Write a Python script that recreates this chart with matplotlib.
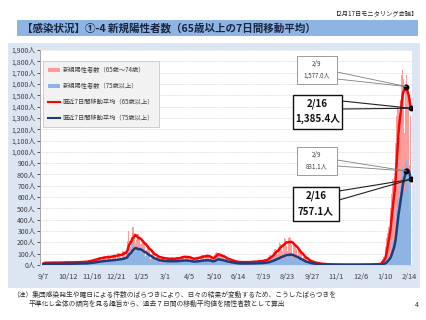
import matplotlib
matplotlib.use("Agg")
import matplotlib.pyplot as plt
import pandas as pd
from matplotlib.patches import Rectangle, Patch
from matplotlib.lines import Line2D

plt.rcParams["font.family"] = ["Noto Sans CJK JP", "DejaVu Sans"]

# ── data: daily new positives, one row per week (Mon..Sun), from 2020-09-07 ──
START = "2020-09-07"
age_65_74 = [
    6, 9, 12, 12, 11, 11, 8,
    6, 10, 13, 13, 13, 12, 9,
    6, 9, 12, 12, 12, 11, 8,
    7, 10, 13, 13, 13, 12, 9,
    7, 11, 14, 14, 14, 13, 10,
    7, 11, 14, 15, 14, 13, 10,
    7, 12, 14, 14, 14, 13, 10,
    8, 12, 15, 16, 15, 14, 11,
    8, 13, 16, 17, 16, 16, 12,
    11, 17, 21, 22, 21, 20, 15,
    14, 22, 26, 28, 26, 25, 20,
    17, 27, 32, 34, 32, 31, 23,
    19, 29, 36, 37, 36, 34, 26,
    19, 30, 37, 39, 37, 35, 27,
    21, 33, 40, 42, 40, 39, 30,
    23, 36, 44, 46, 44, 42, 31,
    28, 40, 55, 55, 56, 50, 31,
    50, 75, 100, 150, 115, 100, 70,
    70, 105, 145, 150, 130, 120, 80,
    60, 90, 110, 115, 112, 105, 73,
    45, 72, 86, 90, 86, 83, 63,
    33, 52, 63, 66, 63, 61, 47,
    22, 35, 43, 44, 43, 41, 31,
    17, 27, 32, 34, 32, 31, 23,
    14, 23, 28, 29, 28, 26, 20,
    13, 21, 25, 26, 25, 24, 20,
    13, 21, 25, 27, 25, 24, 19,
    15, 24, 29, 30, 29, 27, 21,
    19, 30, 37, 39, 37, 35, 27,
    19, 30, 37, 38, 37, 36, 27,
    15, 24, 29, 30, 29, 27, 21,
    17, 28, 33, 35, 33, 32, 25,
    21, 33, 40, 42, 40, 39, 30,
    23, 36, 44, 46, 44, 42, 31,
    19, 26, 31, 33, 32, 30, 25,
    27, 43, 52, 54, 52, 50, 37,
    23, 36, 44, 46, 44, 42, 31,
    15, 24, 29, 30, 29, 27, 21,
    11, 17, 21, 22, 21, 20, 14,
    8, 12, 15, 16, 15, 14, 11,
    7, 11, 14, 15, 14, 13, 10,
    7, 11, 14, 14, 14, 13, 11,
    8, 12, 15, 16, 15, 14, 11,
    9, 14, 17, 18, 17, 17, 13,
    11, 17, 21, 22, 21, 20, 14,
    14, 23, 28, 29, 28, 26, 20,
    25, 40, 48, 50, 48, 46, 37,
    41, 65, 78, 82, 78, 75, 57,
    56, 88, 107, 112, 107, 102, 79,
    67, 106, 129, 134, 129, 123, 96,
    68, 107, 130, 136, 130, 124, 96,
    54, 86, 104, 108, 104, 99, 75,
    35, 55, 67, 70, 67, 64, 48,
    21, 33, 40, 42, 40, 39, 30,
    11, 17, 21, 22, 21, 20, 14,
    6, 9, 12, 12, 11, 11, 9,
    4, 6, 7, 7, 7, 6, 5,
    2, 4, 5, 5, 5, 4, 3,
    2, 3, 3, 4, 3, 3, 2,
    1, 2, 2, 3, 2, 2, 2,
    1, 2, 3, 2, 2, 2, 1,
    1, 2, 2, 2, 2, 2, 1,
    1, 1, 2, 2, 2, 1, 1,
    1, 2, 2, 1, 2, 2, 1,
    1, 1, 2, 2, 2, 2, 1,
    1, 2, 2, 2, 3, 2, 1,
    1, 2, 3, 2, 3, 2, 2,
    2, 3, 3, 4, 3, 3, 2,
    3, 4, 6, 6, 5, 5, 6,
    10, 18, 28, 38, 45, 50, 42,
    80, 130, 190, 230, 260, 270, 240,
    280, 390, 480, 520, 560, 540, 450,
    500, 700, 830, 850, 820, 800, 750,
    600, 760, 860, 960, 850, 790, 640,
    520, 700, 761, 740, 700, 680, 540,
    400, 620, 718,
]
age_75_plus = [
    6, 9, 12, 11, 12, 11, 9,
    5, 10, 11, 13, 12, 10, 8,
    7, 9, 12, 12, 11, 10, 8,
    6, 10, 13, 14, 12, 12, 9,
    7, 11, 14, 15, 13, 13, 10,
    6, 10, 13, 14, 13, 12, 9,
    7, 12, 14, 14, 14, 13, 10,
    8, 12, 15, 16, 15, 14, 11,
    8, 13, 16, 17, 16, 16, 12,
    10, 17, 21, 22, 21, 20, 15,
    15, 23, 29, 30, 29, 28, 21,
    19, 30, 37, 39, 37, 35, 27,
    22, 35, 43, 44, 43, 41, 31,
    24, 38, 46, 48, 46, 44, 34,
    27, 43, 52, 54, 52, 50, 38,
    30, 47, 58, 60, 58, 55, 42,
    38, 55, 70, 72, 75, 65, 45,
    55, 85, 110, 150, 125, 110, 85,
    90, 140, 190, 185, 165, 160, 115,
    85, 135, 160, 165, 165, 155, 115,
    70, 110, 130, 140, 135, 125, 95,
    50, 80, 100, 105, 98, 92, 70,
    35, 55, 67, 70, 66, 63, 50,
    25, 40, 48, 50, 48, 46, 37,
    22, 34, 41, 43, 42, 40, 30,
    20, 31, 38, 40, 38, 36, 28,
    20, 31, 38, 40, 38, 36, 28,
    21, 33, 40, 42, 40, 39, 30,
    24, 38, 46, 48, 46, 44, 34,
    23, 36, 44, 46, 44, 42, 31,
    18, 28, 35, 36, 35, 33, 25,
    20, 31, 38, 40, 38, 36, 28,
    24, 38, 46, 48, 46, 44, 34,
    25, 40, 48, 50, 49, 46, 36,
    22, 30, 35, 38, 36, 34, 29,
    30, 47, 58, 60, 58, 55, 42,
    25, 40, 48, 50, 49, 46, 36,
    18, 28, 35, 36, 35, 33, 25,
    13, 21, 25, 26, 25, 24, 20,
    9, 14, 17, 18, 17, 17, 13,
    8, 12, 15, 16, 15, 14, 11,
    8, 12, 15, 16, 15, 14, 11,
    8, 13, 16, 17, 16, 16, 12,
    9, 14, 17, 18, 17, 17, 13,
    10, 16, 20, 20, 20, 19, 14,
    13, 20, 24, 25, 24, 23, 18,
    20, 31, 38, 40, 38, 36, 28,
    31, 49, 60, 62, 60, 57, 45,
    43, 68, 83, 86, 83, 79, 62,
    53, 84, 101, 106, 101, 97, 74,
    55, 87, 106, 110, 106, 101, 79,
    45, 71, 86, 90, 86, 83, 64,
    31, 49, 60, 62, 60, 57, 45,
    18, 28, 35, 36, 35, 33, 25,
    10, 16, 20, 20, 20, 19, 14,
    6, 9, 12, 12, 11, 11, 9,
    4, 6, 7, 7, 7, 6, 5,
    2, 4, 5, 5, 5, 4, 3,
    1, 2, 3, 3, 3, 3, 2,
    1, 2, 2, 3, 2, 2, 2,
    1, 2, 2, 2, 3, 2, 1,
    1, 1, 2, 2, 2, 1, 1,
    0, 1, 2, 2, 1, 2, 1,
    1, 1, 2, 1, 2, 2, 1,
    1, 2, 1, 2, 2, 1, 1,
    1, 2, 2, 3, 2, 2, 2,
    1, 2, 3, 2, 2, 3, 2,
    1, 2, 3, 3, 3, 3, 2,
    2, 3, 4, 3, 4, 3, 2,
    3, 6, 10, 14, 16, 18, 17,
    18, 30, 45, 55, 65, 70, 67,
    70, 110, 150, 180, 200, 210, 200,
    260, 380, 490, 560, 580, 590, 500,
    520, 700, 820, 860, 870, 850, 700,
    650, 900, 988, 940, 880, 830, 640,
    480, 700, 830,
]
annot_dates = ["2022-02-09", "2022-02-16"]
legend_labels = ["新規陽性者数（65歳～74歳）", "新規陽性者数（75歳以上）",
                 "直近7日間移動平均（65歳以上）", "直近7日間移動平均（75歳以上）"]

C_PINK, C_BLUE, C_RED, C_NAVY = "#FF9B9B", "#8DB4E2", "#FF0000", "#1F3C7A"

p65 = pd.Series(age_65_74, dtype=float)
p75 = pd.Series(age_75_plus, dtype=float)
dates = pd.date_range(START, periods=len(p65))
days = range(len(p65))
avg65 = (p65 + p75).rolling(7, min_periods=1).mean()
avg75 = p75.rolling(7, min_periods=1).mean()

# ── page layout (pixel helpers) ───────────────────────────────────────────────
W, H = 427, 320
fig = plt.figure(figsize=(W / 100, H / 100), dpi=100, facecolor="white")
fx = lambda x: x / W
fy = lambda y: 1 - y / H

def rect(x0, y0, x1, y1, fc, ec="none", lw=0, z=-2):
    fig.add_artist(Rectangle((fx(x0), fy(y1)), fx(x1) - fx(x0), fy(y0) - fy(y1),
                             transform=fig.transFigure, facecolor=fc,
                             edgecolor=ec, linewidth=lw, zorder=z))

rect(8, 43, 420, 288, "#DCE6F2")
rect(17, 20, 418, 36, "#8DB4E2")
fig.text(fx(22), fy(28.5), "【感染状況】①-4 新規陽性者数（65歳以上の7日間移動平均）",
         fontsize=7.6, fontweight="bold", color="#1B2440", va="center", ha="left")
fig.text(fx(418), fy(14), "【2月17日モニタリング会議】", fontsize=4.5,
         color="#222222", ha="right", va="center")
fig.text(fx(12), fy(295), "（注）集団感染発生や曜日による件数のばらつきにより、日々の結果が変動するため、こうしたばらつきを",
         fontsize=4.9, color="#333333", ha="left", va="center")
fig.text(fx(29), fy(303.5), "平準化し全体の傾向を見る趣旨から、過去７日間の移動平均値を陽性者数として算出",
         fontsize=4.9, color="#333333", ha="left", va="center")
fig.text(fx(419), fy(305), "4", fontsize=5, color="#333333", ha="right", va="center")

# ── chart ────────────────────────────────────────────────────────────────────
ax = fig.add_axes([fx(40), fy(265), fx(412) - fx(40), fy(50) - fy(265)])
ax.set_facecolor("white")
ax.bar(days, p75, width=1.0, color=C_BLUE, linewidth=0, zorder=2)
ax.bar(days, p65, width=1.0, bottom=p75, color=C_PINK, linewidth=0, zorder=2)
ax.plot(days, avg65, color=C_RED, lw=1.8, zorder=4, solid_capstyle="round")
ax.plot(days, avg75, color=C_NAVY, lw=1.8, zorder=4, solid_capstyle="round")

ax.set_xlim(-4.5, 528.5)
ax.set_ylim(0, 1900)
yt = list(range(0, 2000, 100))
ax.set_yticks(yt)
ax.set_yticklabels([f"{v:,}人" for v in yt])
xt = list(range(0, len(dates), 35))
ax.set_xticks(xt)
ax.set_xticklabels([f"{dates[i].month}/{dates[i].day}" for i in xt])
ax.tick_params(axis="y", labelsize=5, colors="#404040", length=2, width=0.6, pad=1)
ax.tick_params(axis="x", labelsize=5.3, colors="#404040", length=0, pad=6)
ax.grid(axis="y", color="#D0D0D0", lw=0.5, linestyle=(0, (1, 1)), zorder=0)
for s in ("top", "right"):
    ax.spines[s].set_visible(False)
ax.spines["left"].set_color("#A6A6A6")
ax.spines["left"].set_linewidth(0.7)
ax.spines["bottom"].set_color("#D9D9D9")
ax.spines["bottom"].set_linewidth(0.6)

handles = [Patch(fc=C_PINK, ec="none"), Patch(fc=C_BLUE, ec="none"),
           Line2D([], [], color=C_RED, lw=1.5), Line2D([], [], color=C_NAVY, lw=1.5)]
leg = ax.legend(handles, legend_labels, loc="upper left", bbox_to_anchor=(0.008, 0.95),
                fontsize=4.5, labelspacing=1.3, handlelength=2.0, handleheight=0.6,
                handletextpad=0.3, borderpad=0.8, borderaxespad=0, frameon=True,
                fancybox=False, facecolor="#F2F2F2", edgecolor="#C8C8C8",
                framealpha=1.0)
leg.get_frame().set_linewidth(0.6)
for t in leg.get_texts():
    t.set_color("#404040")

# ── call-outs ────────────────────────────────────────────────────────────────
to_fig = lambda x, y: fig.transFigure.inverted().transform(ax.transData.transform((x, y)))

def callout(series, date, box, base, bold):
    i = dates.get_loc(pd.Timestamp(date))
    v = series.iloc[i]
    ax.plot(i, v, "o", color="black", ms=3.2, zorder=6)
    tip = to_fig(i, v)
    x0, y0, x1, y1 = box
    for by in base:
        fig.add_artist(Line2D([fx(x1), tip[0]], [fy(by), tip[1]], transform=fig.transFigure,
                              color="#222222" if bold else "#7F7F7F",
                              lw=0.8 if bold else 0.6, zorder=5))
    rect(x0, y0, x1, y1, "white", "#111111" if bold else "#8C8C8C",
         1.0 if bold else 0.6, z=6)
    d = pd.Timestamp(date)
    lines = [f"{d.month}/{d.day}", f"{v:,.1f}人"]
    cx = (x0 + x1) / 2
    h = y1 - y0
    for k, s in enumerate(lines):
        fig.text(fx(cx), fy(y0 + h * (0.27 + 0.43 * k)), s, ha="center", va="center",
                 fontsize=7 if bold else 4.5, fontweight="bold" if bold else "normal",
                 color="#111111" if bold else "#404040", zorder=7)

callout(avg65, annot_dates[0], (297, 56, 337, 84), (72, 79), False)
callout(avg65, annot_dates[1], (293, 95, 342, 129), (101, 109), True)
callout(avg75, annot_dates[0], (297, 147, 337, 175), (160, 166), False)
callout(avg75, annot_dates[1], (293, 187, 339, 221), (191, 200), True)

fig.savefig("out.png", dpi=100, facecolor="white")
